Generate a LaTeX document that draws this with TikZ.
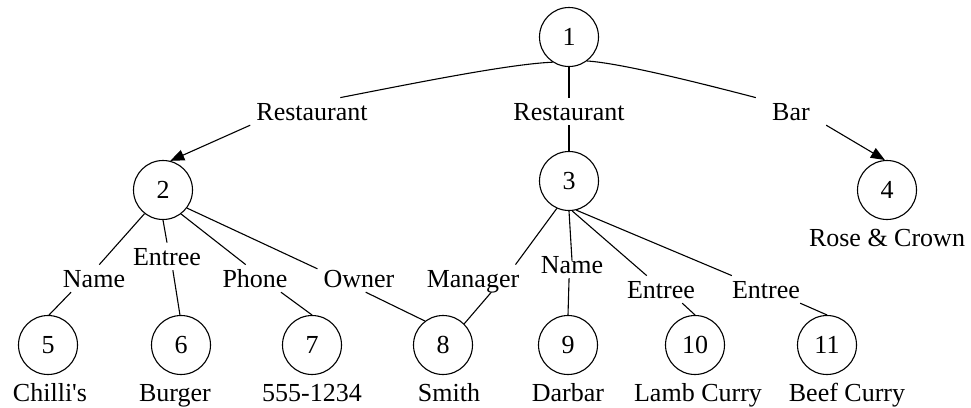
\documentclass[tikz,border=0pt]{standalone}
\usepackage{fontspec}
\newfontfamily\labelfont{Liberation Serif}
\usetikzlibrary{arrows.meta}
\begin{document}
\begin{tikzpicture}[x=1pt,y=1pt,
  every node/.style={font=\labelfont\fontsize{26}{30}\selectfont},
  obj/.style={draw, circle, minimum size=59pt, inner sep=0pt, line width=1.1pt},
  lbl/.style={inner xsep=6pt, inner ysep=5pt, text height=17.2pt, text depth=0pt, anchor=base},
  val/.style={inner sep=0pt, anchor=base},
  link/.style={line width=1.1pt},
  arr/.style={link, -{Triangle[length=14pt,width=11pt]}}]
\useasboundingbox (0,0) rectangle (971,-407);

% objects
\node[obj] (n1)  at (569,-37)  {1};
\node[obj] (n2)  at (163,-190) {2};
\node[obj] (n3)  at (569,-181) {3};
\node[obj] (n4)  at (887,-190) {4};
\node[obj] (n5)  at (48,-345)  {5};
\node[obj] (n6)  at (181,-345) {6};
\node[obj] (n7)  at (312,-345) {7};
\node[obj] (n8)  at (443,-345) {8};
\node[obj] (n9)  at (568,-345) {9};
\node[obj] (n10) at (695,-345) {10};
\node[obj] (n11) at (827,-345) {11};

% atomic values
\node[val] (v4)  at (887,-246) {Rose \& Crown};
\node[val] (v5)  at (50,-401)  {Chilli's};
\node[val] (v6)  at (175,-401) {Burger};
\node[val] (v7)  at (312,-401) {555-1234};
\node[val] (v8)  at (449,-401) {Smith};
\node[val] (v9)  at (568,-401) {Darbar};
\node[val] (v10) at (698,-401) {Lamb Curry};
\node[val] (v11) at (847,-401) {Beef Curry};

% edge labels
\node[lbl] (rl)   at (312,-120) {Restaurant};
\node[lbl] (rm)   at (569,-120) {Restaurant};
\node[lbl, minimum width=70pt] (bar) at (791,-120) {Bar};
\node[lbl] (nm5)  at (94,-287)  {Name};
\node[lbl] (en6)  at (167,-265) {Entree};
\node[lbl] (ph7)  at (255,-287) {Phone};
\node[lbl] (ow8)  at (359,-287) {Owner};
\node[lbl] (mg8)  at (473,-287) {Manager};
\node[lbl] (nm9)  at (572,-273) {Name};
\node[lbl] (en10) at (661,-298) {Entree};
\node[lbl] (en11) at (766,-298) {Entree};

% root edges
\draw[link] (n1.237) .. controls (510,-64) and (420,-82) .. (rl.26);
\draw[arr]  (rl.south west) -- (n2.76);
\draw[link] (n1.south) -- (rm.north);
\draw[link] (rm.south) -- (n3.north);
\draw[link] (n1.307) .. controls (620,-63) and (700,-83) .. (bar.north west);
\draw[arr]  (bar.south east) -- (n4.94);

% edges of object 2
\draw[link] (n2.232) -- (nm5.69);
\draw[link] (nm5.211) -- (n5.88);
\draw[link] (n2.south) -- (en6.north);
\draw[link] (en6.293) -- (n6.92);
\draw[link] (n2.307) -- (ph7.124);
\draw[link] (ph7.332) -- (n7.north);
\draw[link] (n2.323) -- (ow8.167);
\draw[link] (ow8.296) -- (n8.127);

% edges of object 3
\draw[link] (n3.246) -- (mg8.18);
\draw[link] (mg8.323) -- (n8.45);
\draw[link] (n3.south) -- ([yshift=-10pt]nm9.north);
\draw[link] (nm9.258) -- (n9.north);
\draw[link] (n3.276) -- (en10.136);
\draw[link] (en10.327) -- (n10.north);
\draw[link] (n3.284) -- (en11.158);
\draw[link] (en11.338) -- (n11.north);
\end{tikzpicture}
\end{document}
